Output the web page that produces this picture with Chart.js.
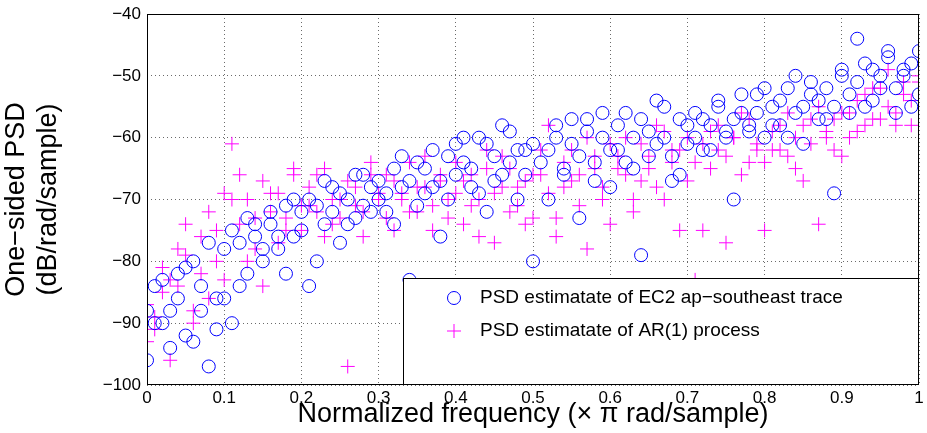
<!DOCTYPE html>
<html><head><meta charset="utf-8">
<script src="https://cdn.jsdelivr.net/npm/chart.js@4/dist/chart.umd.min.js"></script>
<style>html,body{margin:0;background:#fff}#wrap{width:927px;height:433px}</style>
</head><body><div id="wrap"><canvas id="c"></canvas></div>
<script>
// frequency axis, 0..1 in steps of 0.01
const freq = [];
for (let i = 0; i <= 100; i++) freq.push(i / 100);

const blueA = [-96,-84,-90,-88,-82,-92,-80,-88,-97,-86,-78,
  -75,-84,-73,-76,-80,-74,-78,-71,-76,-72,
  -70,-80,-67,-72,-69,-74,-66,-71,-68,-70,
  -72,-65,-68,-83,-64,-69,-62,-67,-70,-61,
  -64,-68,-60,-72,-63,-66,-59,-70,-62,-80,
  -85,-62,-58,-66,-61,-73,-57,-64,-60,-68,
  -62,-56,-65,-79,-59,-61,-55,-63,-66,-58,
  -60,-57,-62,-54,-59,-70,-56,-58,-53,-60,
  -55,-58,-52,-56,-61,-51,-54,-57,-69,-50,
  -53,-44,-55,-49,-52,-47,-56,-50,-48,-53];
const blueB = [-88,-90,-83,-94,-86,-81,-93,-84,-77,-91,-86,
  -90,-77,-82,-74,-78,-72,-76,-82,-70,-75,
  -84,-71,-74,-68,-77,-70,-73,-66,-72,-67,
  -69,-74,-63,-67,-71,-65,-68,-76,-63,-66,
  -60,-65,-69,-61,-67,-58,-64,-62,-66,-61,
  -64,-70,-60,-65,-57,-63,-59,-67,-56,-62,
  -58,-64,-60,-57,-63,-54,-60,-67,-57,-61,
  -56,-62,-58,-55,-60,-57,-53,-59,-56,-52,
  -58,-54,-60,-50,-55,-53,-57,-52,-55,-49,
  -56,-51,-48,-54,-50,-46,-52,-49,-55,-46];
const magA = [-87,-91,-85,-83,-78,-74,-88,-76,-72,-80,-69,
  -61,-74,-70,-78,-67,-72,-69,-75,-66,-71,
  -68,-72,-65,-74,-70,-67,-71,-76,-66,-69,
  -73,-67,-70,-64,-72,-68,-75,-66,-70,-64,
  -67,-71,-76,-65,-69,-63,-72,-68,-74,-66,
  -62,-69,-73,-64,-67,-71,-60,-65,-68,-74,
  -63,-66,-70,-61,-65,-68,-59,-64,-62,-67,
  -83,-61,-65,-58,-63,-60,-66,-57,-62,-64,
  -59,-62,-56,-65,-58,-61,-55,-60,-57,-63,
  -56,-59,-53,-57,-52,-55,-58,-51,-54,-50];
const magB = [-93,-89,-81,-96,-84,-79,-90,-82,-86,-75,-83,
  -70,-66,-80,-73,-84,-69,-77,-73,-65,-75,
  -71,-66,-76,-70,-73,-97,-68,-72,-64,-70,
  -66,-75,-69,-72,-68,-63,-71,-67,-73,-69,
  -74,-66,-70,-62,-77,-68,-65,-71,-67,-73,
  -66,-58,-76,-68,-62,-66,-78,-63,-70,-61,
  -65,-60,-72,-67,-63,-58,-70,-62,-75,-60,
  -64,-75,-59,-62,-77,-60,-56,-64,-61,-75,
  -62,-58,-63,-60,-67,-57,-74,-59,-62,-56,
  -60,-54,-58,-52,-57,-49,-56,-53,-58,-51];

const legendLabels = ['PSD estimatate of EC2 ap\u2212southeast trace', 'PSD estimatate of AR(1) process'];
const xTicks = [0, 0.1, 0.2, 0.3, 0.4, 0.5, 0.6, 0.7, 0.8, 0.9, 1];
const yTicks = [-100, -90, -80, -70, -60, -50, -40];

function pts(ys) { return ys.map((y, i) => ({ x: freq[i], y: y })); }

const FONT = 'Liberation Sans, Arial, sans-serif';

// frame + legend box, matlab style
const framePlugin = {
  id: 'frame',
  afterDatasetsDraw(chart) {
    const { ctx, chartArea: a } = chart;
    ctx.save();
    ctx.strokeStyle = '#000';
    ctx.lineWidth = 1;
    ctx.strokeRect(a.left + 0.5, a.top + 0.5, a.width - 1, a.height - 1);
    // legend
    const lx = 403, ly = 278, lw = a.right - 403, lh = a.bottom - 278;
    ctx.fillStyle = '#fff';
    ctx.fillRect(lx, ly, lw, lh);
    ctx.strokeRect(lx + 0.5, ly + 0.5, lw - 1, lh - 1);
    ctx.font = '19px ' + FONT;
    ctx.fillStyle = '#000';
    ctx.textBaseline = 'middle';
    ctx.strokeStyle = '#0000ff';
    ctx.beginPath(); ctx.arc(454, 298, 6.5, 0, Math.PI * 2); ctx.stroke();
    ctx.fillText(legendLabels[0], 480, 298);
    ctx.strokeStyle = '#ff00ff';
    ctx.beginPath(); ctx.moveTo(447, 331); ctx.lineTo(461, 331); ctx.moveTo(454, 324); ctx.lineTo(454, 338); ctx.stroke();
    ctx.fillText(legendLabels[1], 480, 331);
    ctx.restore();
  }
};

new Chart(document.getElementById('c'), {
  type: 'scatter',
  data: {
    datasets: [
      { label: legendLabels[0], data: pts(blueA).concat(pts(blueB)), pointStyle: 'circle', radius: 6.5,
        borderColor: '#0000ff', backgroundColor: 'rgba(0,0,0,0)', borderWidth: 1 },
      { label: legendLabels[1], data: pts(magA).concat(pts(magB)), pointStyle: 'cross', radius: 7,
        borderColor: '#ff00ff', backgroundColor: '#ff00ff', borderWidth: 1 }
    ]
  },
  options: {
    responsive: true, maintainAspectRatio: false, animation: false,
    layout: { padding: { top: 14, right: 5, left: 0, bottom: 2 } },
    plugins: { legend: { display: false }, tooltip: { enabled: false } },
    scales: {
      x: {
        type: 'linear', min: 0, max: 1,
        afterBuildTicks: s => { s.ticks = xTicks.map(v => ({ value: v })); },
        afterFit: s => { s.height = 46; s.paddingRight = 0; s.paddingLeft = 0; },
        grid: { color: '#444', drawTicks: false, lineWidth: 0.8 },
        border: { display: false, dash: [1, 3] },
        ticks: { color: '#000', font: { size: 17, family: FONT }, padding: 3, maxRotation: 0,
          callback: v => String(v) },
        title: { display: true, text: 'Normalized frequency (\u00d7 \u03c0 rad/sample)', color: '#000',
          font: { size: 27, family: FONT }, padding: { top: 0, bottom: 0 } }
      },
      y: {
        min: -100, max: -40,
        afterBuildTicks: s => { s.ticks = yTicks.map(v => ({ value: v })); },
        afterFit: s => { s.width = 147; s.paddingTop = 0; s.paddingBottom = 0; },
        grid: { color: '#444', drawTicks: false, lineWidth: 0.8 },
        border: { display: false, dash: [1, 3] },
        ticks: { color: '#000', font: { size: 17, family: FONT }, padding: 6,
          callback: v => String(v).replace('-', '\u2212') },
        title: { display: true, text: ['One\u2212sided PSD', '(dB/rad/sample)'], color: '#000',
          font: { size: 27, family: FONT, lineHeight: 1.2 }, padding: { top: 0, bottom: 4 } }
      }
    }
  },
  plugins: [framePlugin]
});
</script></body></html>
